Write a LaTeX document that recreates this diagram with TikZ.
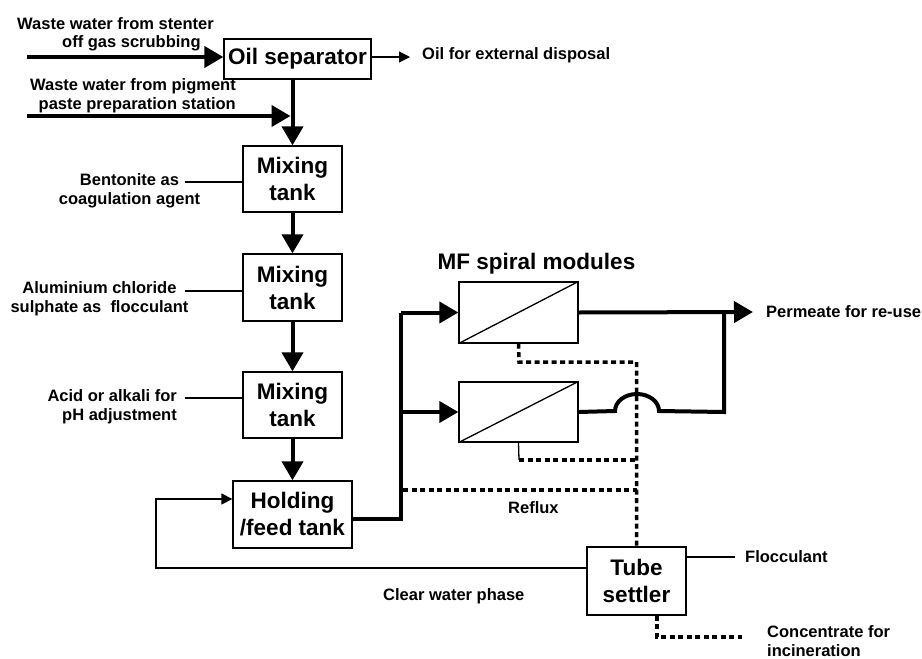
\documentclass[tikz,border=0pt]{standalone}
\usepackage{fontspec}
\setmainfont{Liberation Sans}
\usetikzlibrary{arrows.meta}
\newcommand\lblfont{\fontsize{16.5}{19}\selectfont\bfseries}
\newcommand\bxfont{\fontsize{22.5}{27}\selectfont\bfseries}
\begin{document}
\begin{tikzpicture}[x=1pt,y=-1pt,
  box/.style={draw,line width=1.3pt,inner sep=0pt,align=center,font=\bxfont},
  lbl/.style={inner sep=0pt,font=\lblfont},
  flow/.style={line width=4pt,-{Triangle[length=19pt,width=21pt]}},
  flowline/.style={line width=4pt},
  thinline/.style={line width=1.3pt},
  thinarrow/.style={line width=1.3pt,-{Triangle[length=11pt,width=11pt]}},
  dotline/.style={line width=3.5pt,dash pattern=on 5pt off 3.5pt}]
\useasboundingbox[fill=white] (0,0) rectangle (922,659);

% boxes
\node[box,minimum width=147pt,minimum height=40pt] (oil) at (297.5,59) {Oil separator};
\node[box,minimum width=99pt,minimum height=66pt] (mix1) at (292.5,179) {Mixing\\tank};
\node[box,minimum width=99pt,minimum height=67pt] (mix2) at (292.5,287.5) {Mixing\\tank};
\node[box,minimum width=99pt,minimum height=66pt] (mix3) at (292.5,405) {Mixing\\tank};
\node[box,minimum width=119pt,minimum height=67pt] (hold) at (292.5,514.5) {Holding\\/feed tank};
\node[box,minimum width=119pt,minimum height=61pt] (mod1) at (518.5,312.5) {};
\node[box,minimum width=119pt,minimum height=60pt] (mod2) at (518.5,412) {};
\node[box,minimum width=99pt,minimum height=68pt] (tube) at (636.5,581) {Tube\\settler};
\draw[thinline] (mod1.south west) -- (mod1.north east);
\draw[thinline] (mod2.south west) -- (mod2.north east);

% labels
\node[lbl,anchor=west] (ww1a) at (17,24) {Waste water from stenter};
\node[lbl,anchor=west] (ww1b) at (62,43) {off gas scrubbing};
\node[lbl,anchor=east,align=right] (ww2) at (236,96) {Waste water from pigment\\paste preparation station};
\node[lbl,anchor=west] (oilout) at (422,55) {Oil for external disposal};
\node[lbl,align=center] (bent) at (129.5,191) {Bentonite as\\coagulation agent};
\node[lbl,align=center] (alu) at (99.5,299) {Aluminium chloride\\sulphate as~~flocculant};
\node[lbl,anchor=east,align=right] (acid) at (177,407) {Acid or alkali for\\pH adjustment};
\node[inner sep=0pt,font=\bxfont] (mf) at (536.5,264) {MF spiral modules};
\node[lbl,anchor=west] (perm) at (766,312) {Permeate for re-use};
\node[lbl,anchor=west] (reflux) at (508,508) {Reflux};
\node[lbl,anchor=west] (clear) at (383,596) {Clear water phase};
\node[lbl,anchor=west] (floc) at (745,557) {Flocculant};
\node[lbl,anchor=west,align=left] (conc) at (767,641) {Concentrate for\\incineration};

% coordinates
\coordinate (in1) at (27,57);
\coordinate (in2) at (27,116);
\coordinate (oiltip) at (410,57);
\coordinate (bentl) at (185,182);
\coordinate (alul) at (185,291);
\coordinate (acidl) at (185,398);
\coordinate (split) at (401,519);
\coordinate (permtip) at (753,312);
\coordinate (pj) at (724,312);
\coordinate (hop) at (615,411);
\coordinate (dv) at (519,362);
\coordinate (d2) at (519,460);
\coordinate (rf) at (403,490);
\coordinate (cw) at (156,568);
\coordinate (cw2) at (156,499);
\coordinate (fl) at (735,557);
\coordinate (cc1) at (657,637);
\coordinate (cc2) at (742,637);

% main flows
\draw[flow] (in1) -- (in1 -| oil.west);
\draw[thinarrow] (oil.east |- oiltip) -- (oiltip);
\draw[flow] (oil.south -| mix1.north) -- (mix1.north);
\draw[flow,shorten >=2pt] (in2) -- (in2 -| mix1.north);
\draw[flow] (mix1.south) -- (mix2.north);
\draw[flow] (mix2.south) -- (mix3.north);
\draw[flow] (mix3.south) -- (hold.north);

% dosing lines
\draw[thinline] (bentl) -- (bentl -| mix1.west);
\draw[thinline] (alul) -- (alul -| mix2.west);
\draw[thinline] (acidl) -- (acidl -| mix3.west);

% feed to modules
\draw[flowline,line join=miter] (hold.east |- split) -- (split) -- (split |- mod1.west);
\draw[flow] (split |- mod1.west) -- (mod1.west);
\draw[flow] (split |- mod2.west) -- (mod2.west);

% permeate
\draw[flow] (mod1.east) -- (permtip);
\draw[flowline,line join=miter] (mod2.east) -- (hop)
  arc[start angle=180,end angle=0,x radius=22pt,y radius=17pt]
  -- (pj |- mod2.east) -- (pj);

% reflux / retentate
\draw[dotline] (mod1.south) -- (dv) -- (dv -| tube.north) -- (tube.north);
\draw[thinline] (mod2.south) -- (d2);
\draw[dotline] (d2) -- (d2 -| tube.north);
\draw[dotline] (rf) -- (rf -| tube.north);

% clear water return
\draw[thinarrow] (tube.west |- cw) -- (cw) -- (cw2) -- (cw2 -| hold.west);

% flocculant and concentrate
\draw[thinline] (tube.east |- fl) -- (fl);
\draw[dotline] (cc1 |- tube.south) -- (cc1) -- (cc2);
\end{tikzpicture}
\end{document}
